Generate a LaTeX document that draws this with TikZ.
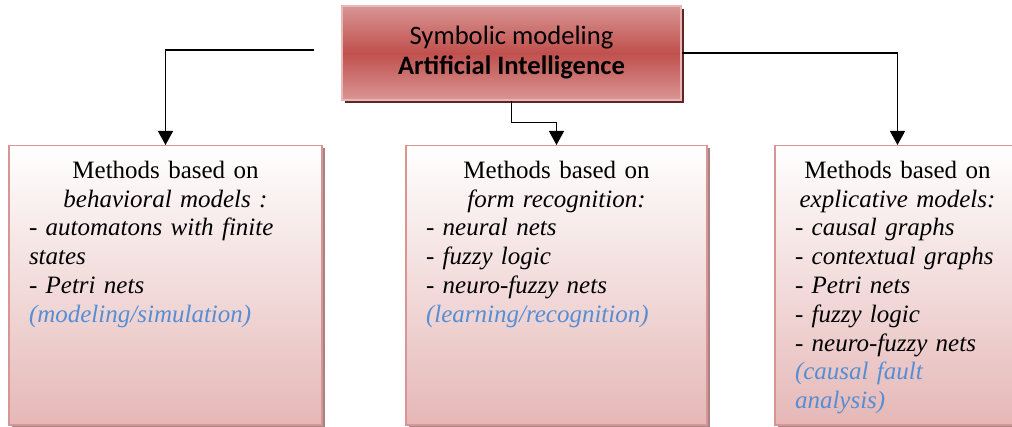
\documentclass[tikz,border=0pt]{standalone}
\usepackage{fontspec}
\setmainfont{Liberation Serif}
\newfontfamily\calibri{Carlito}
\usetikzlibrary{arrows.meta, positioning, shadows}
\definecolor{aired}{HTML}{C0504D}
\definecolor{airose}{HTML}{D99594}
\definecolor{aiedge}{HTML}{E6B9B8}
\definecolor{aishade}{HTML}{632523}
\definecolor{boxpink}{HTML}{E5B8B7}
\definecolor{boxedge}{HTML}{D99594}
\definecolor{boxshade}{HTML}{A88383}
\definecolor{notesblue}{HTML}{558ED5}

\tikzset{
  aibox/.style={rectangle, draw=aiedge, line width=1.5pt,
      top color=airose, bottom color=airose, middle color=aired,
      minimum width=339pt, minimum height=94pt, align=center,
      font=\calibri\fontsize{26.6}{30}\selectfont,
      drop shadow={shadow xshift=3pt, shadow yshift=-3pt, fill=aishade, opacity=1}},
  methodbox/.style={rectangle, draw=boxedge, line width=1.5pt,
      top color=white, bottom color=boxpink, anchor=north, align=left,
      inner xsep=20pt, inner ysep=15.5pt, text height=17pt, text depth=231pt,
      font=\fontsize{25}{28.8}\selectfont,
      drop shadow={shadow xshift=2.5pt, shadow yshift=-2.5pt, fill=boxshade, opacity=1}},
  link/.style={line width=1.3pt, -{Triangle[width=15pt,length=14pt]}}
}

\begin{document}
\begin{tikzpicture}[x=1pt, y=-1pt]
\useasboundingbox (0,0) rectangle (1012,427);
\clip (0,0) rectangle (1012,427);

\node[aibox] (ai) at (511.5,53) {Symbolic modeling\\ \textbf{Artificial Intelligence}};

\node[methodbox, text width=273pt] (behav) at (165.5,145) {
\centerline{Methods based on}
\centerline{\itshape behavioral models :}
\itshape - automatons with finite\\
states\\
- Petri nets\\
\textcolor{notesblue}{(modeling/simulation)}
};
\node[methodbox, text width=261pt] (form) at (556.5,145) {
\centerline{Methods based on}
\centerline{\itshape form recognition:}
\itshape - neural nets\\
- fuzzy logic\\
- neuro-fuzzy nets\\
\textcolor{notesblue}{(learning/recognition)}
};
\node[methodbox, text width=205pt] (expl) at (897.5,145) {
\centerline{Methods based on}
\centerline{\itshape explicative models:}
\itshape - causal graphs\\
- contextual graphs\\
- Petri nets\\
- fuzzy logic\\
- neuro-fuzzy nets\\
\textcolor{notesblue}{(causal fault\\ analysis)}
};

% connectors
\coordinate (lstart) at (314,50);
\draw[link] (lstart) -| (behav.north);
\draw[link] (ai.south) -- ++(0,22) -| (form.north);
\draw[link] (ai.east) -| (expl.north);
\end{tikzpicture}
\end{document}
